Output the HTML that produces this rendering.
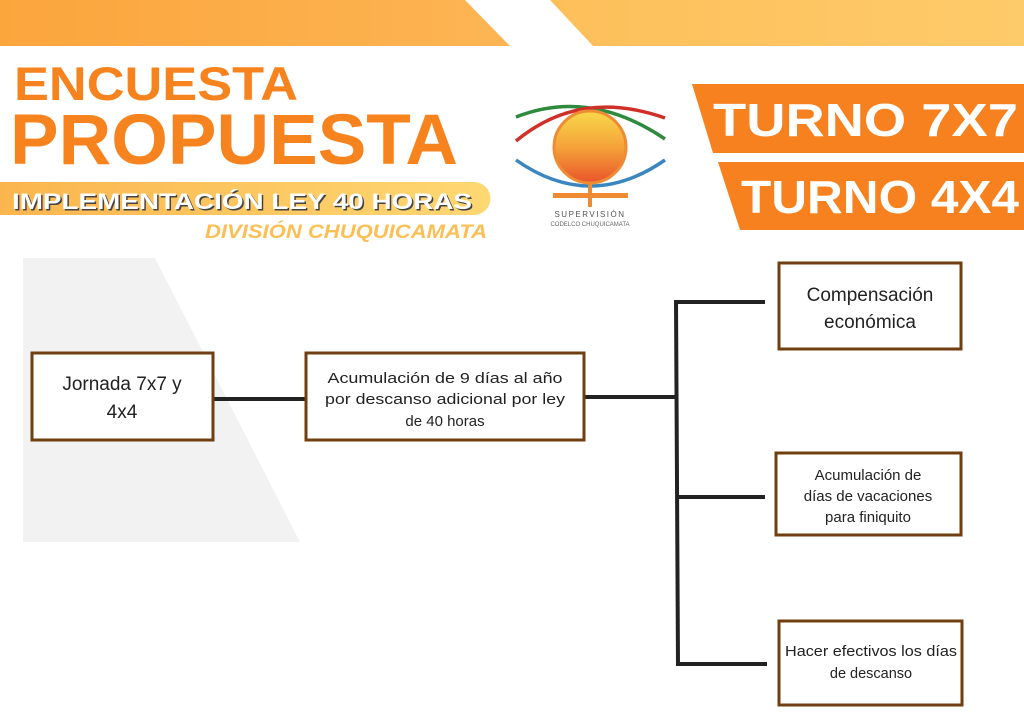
<!DOCTYPE html>
<html><head><meta charset="utf-8"><style>
html,body{margin:0;padding:0;background:#fff;}
svg{display:block;}
.t{font-family:"Liberation Sans",Arial,sans-serif;}
</style></head><body>
<svg width="1024" height="726" viewBox="0 0 1024 726" xmlns="http://www.w3.org/2000/svg">
<defs>
<linearGradient id="g1" x1="0" x2="1"><stop offset="0" stop-color="#fba53d"/><stop offset="1" stop-color="#fdb553"/></linearGradient>
<linearGradient id="g2" x1="0" x2="1"><stop offset="0" stop-color="#fdbf5a"/><stop offset="1" stop-color="#fecb6a"/></linearGradient>
<linearGradient id="g3" x1="0" x2="1"><stop offset="0" stop-color="#fbb54e"/><stop offset="1" stop-color="#fed873"/></linearGradient>
<linearGradient id="sun" x1="0" y1="0" x2="0" y2="1"><stop offset="0" stop-color="#f8d84a"/><stop offset="0.5" stop-color="#f5a33a"/><stop offset="1" stop-color="#e9542a"/></linearGradient>
</defs>
<polygon points="0,0 465,0 510,46 0,46" fill="url(#g1)"/>
<polygon points="550,0 1024,0 1024,46 593,46" fill="url(#g2)"/>
<text x="14" y="100" class="t" font-size="47" font-weight="bold" fill="#f7831f" textLength="284" lengthAdjust="spacingAndGlyphs">ENCUESTA</text>
<text x="10" y="164" class="t" font-size="71" font-weight="bold" fill="#f7831f" textLength="448" lengthAdjust="spacingAndGlyphs">PROPUESTA</text>
<path d="M0,182 H474 a16,16 0 0 1 0,33 H0 Z" fill="url(#g3)"/>
<text x="13.5" y="210.5" class="t" font-size="22" font-weight="bold" fill="#444" textLength="460" lengthAdjust="spacingAndGlyphs">IMPLEMENTACIÓN LEY 40 HORAS</text>
<text x="12" y="209" class="t" font-size="22" font-weight="bold" fill="#fff" textLength="460" lengthAdjust="spacingAndGlyphs">IMPLEMENTACIÓN LEY 40 HORAS</text>
<text x="205" y="238" class="t" font-size="19" font-weight="bold" font-style="italic" fill="#fbbf55" textLength="282" lengthAdjust="spacingAndGlyphs">DIVISIÓN CHUQUICAMATA</text>
<!-- logo -->
<path d="M516,117 Q590,88 665,139" stroke="#2e8b3e" stroke-width="3.5" fill="none"/>
<path d="M516,141 Q580,88 665,118" stroke="#d03028" stroke-width="3.5" fill="none"/>
<path d="M516,160 Q590,212 665,160" stroke="#3a86c0" stroke-width="3.5" fill="none"/>
<circle cx="590" cy="147" r="36" fill="url(#sun)" stroke="#ef8c33" stroke-width="3"/>
<rect x="588" y="183" width="4" height="24" fill="#ef8c33"/>
<rect x="553" y="193" width="75" height="5" fill="#ef8c33"/>
<text x="590" y="217" class="t" font-size="8" fill="#555" text-anchor="middle" letter-spacing="1.5">SUPERVISIÓN</text>
<text x="590" y="226" class="t" font-size="6" fill="#666" text-anchor="middle">CODELCO CHUQUICAMATA</text>
<!-- turno bands -->
<polygon points="692,84 1024,84 1024,153 713,153" fill="#f7811e"/>
<polygon points="718,162 1024,162 1024,230 740,230" fill="#f7811e"/>
<text x="713" y="136" class="t" font-size="46" font-weight="bold" fill="#fff" textLength="305" lengthAdjust="spacingAndGlyphs">TURNO 7X7</text>
<text x="741" y="213" class="t" font-size="46" font-weight="bold" fill="#fff" textLength="278" lengthAdjust="spacingAndGlyphs">TURNO 4X4</text>
<!-- gray shape -->
<polygon points="23,258 155,258 300,542 23,542" fill="#f2f2f2"/>
<!-- connectors -->
<g stroke="#222" stroke-width="4" fill="none">
<line x1="213" y1="399" x2="305" y2="399"/>
<line x1="585" y1="397" x2="676" y2="397"/>
<line x1="676" y1="300" x2="678" y2="666"/>
<line x1="676" y1="302" x2="765" y2="302"/>
<line x1="678" y1="497" x2="765" y2="497"/>
<line x1="678" y1="664" x2="767" y2="664"/>
</g>
<!-- boxes -->
<g fill="#fff" stroke="#6f3f12" stroke-width="3">
<rect x="32" y="353" width="181" height="87"/>
<rect x="306" y="353" width="278" height="87"/>
<rect x="779" y="263" width="182" height="86"/>
<rect x="776" y="453" width="185" height="82"/>
<rect x="779" y="621" width="183" height="84"/>
</g>
<g class="t" fill="#222" text-anchor="middle">
<text x="122" y="390" font-size="19">Jornada 7x7 y</text>
<text x="122" y="418" font-size="19">4x4</text>
<text x="445" y="383" font-size="15" textLength="235" lengthAdjust="spacingAndGlyphs">Acumulación de  9 días al año</text>
<text x="445" y="404" font-size="15" textLength="240" lengthAdjust="spacingAndGlyphs">por descanso adicional por ley</text>
<text x="445" y="426" font-size="15">de 40 horas</text>
<text x="870" y="301" font-size="19">Compensación</text>
<text x="870" y="328" font-size="19">económica</text>
<text x="868" y="480" font-size="15">Acumulación de</text>
<text x="868" y="501" font-size="15">días de vacaciones</text>
<text x="868" y="522" font-size="15">para finiquito</text>
<text x="871" y="656" font-size="14.5" textLength="172" lengthAdjust="spacingAndGlyphs">Hacer efectivos los días</text>
<text x="871" y="678" font-size="14.5">de descanso</text>
</g>
</svg>
</body></html>
